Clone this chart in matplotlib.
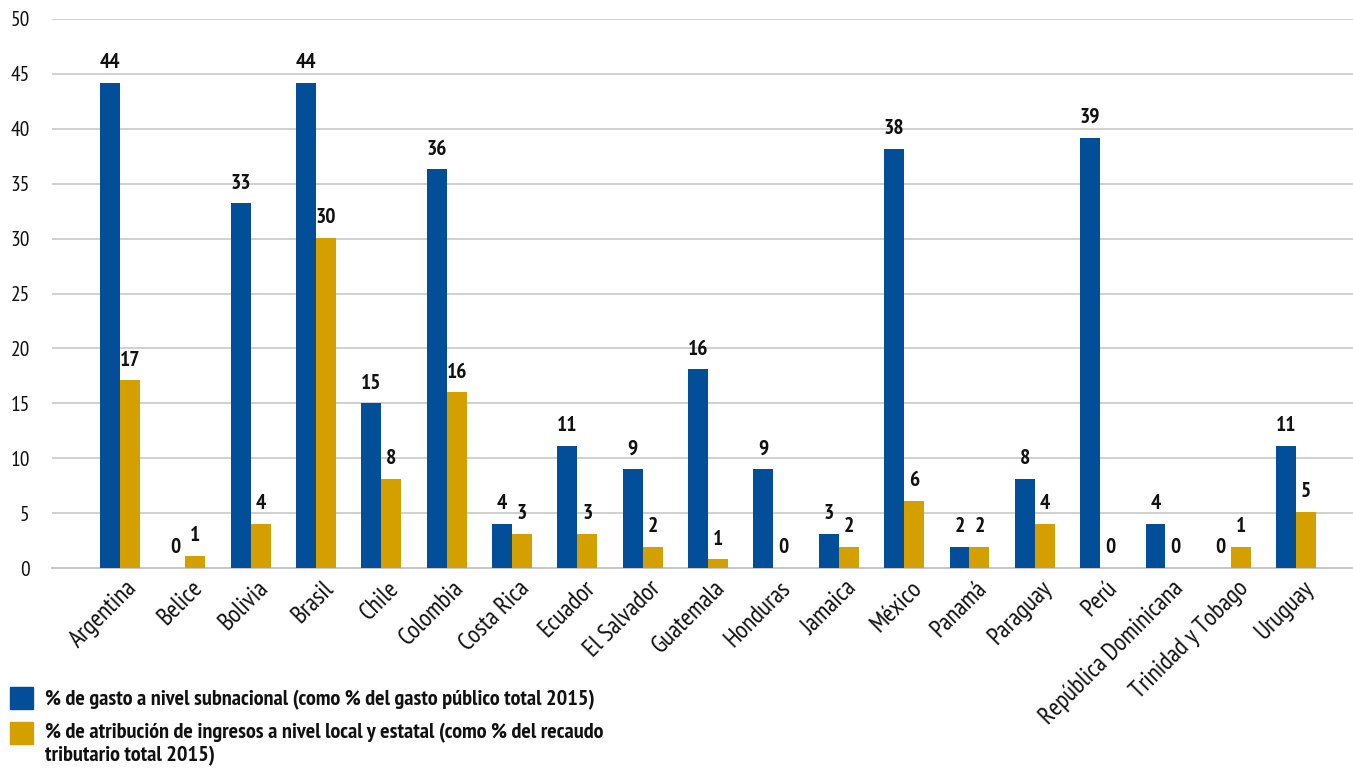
import numpy as np
import matplotlib
matplotlib.use("Agg")
import matplotlib.pyplot as plt
from matplotlib.patches import Rectangle
from matplotlib.transforms import ScaledTranslation

plt.rcParams['font.family'] = ['PT Sans Narrow', 'Asap Condensed', 'DejaVu Sans']

paises = ['Argentina', 'Belice', 'Bolivia', 'Brasil', 'Chile', 'Colombia', 'Costa Rica',
          'Ecuador', 'El Salvador', 'Guatemala', 'Honduras', 'Jamaica', 'México', 'Panamá',
          'Paraguay', 'Perú', 'República Dominicana', 'Trinidad y Tobago', 'Uruguay']

# bar heights
gasto = [44.2, 0, 33.2, 44.2, 15.0, 36.3, 4.0, 11.1, 9.0, 18.1, 9.0, 3.1, 38.2, 1.9,
         8.1, 39.2, 4.0, 0, 11.1]
ingresos = [17.1, 1.1, 4.0, 30.1, 8.1, 16.0, 3.1, 3.1, 1.9, 0.8, 0, 1.9, 6.1, 1.9,
            4.0, 0, 0, 1.9, 5.1]

# data labels as printed on the chart
gasto_lbl = ['44', '0', '33', '44', '15', '36', '4', '11', '9', '16', '9', '3', '38', '2',
             '8', '39', '4', '0', '11']
ingresos_lbl = ['17', '1', '4', '30', '8', '16', '3', '3', '2', '1', '0', '2', '6', '2',
                '4', '0', '0', '1', '5']

serie1 = '% de gasto a nivel subnacional (como % del gasto público total 2015)'
serie2 = ('% de atribución de ingresos a nivel local y estatal (como % del recaudo\n'
          'tributario total 2015)')

azul = '#034e98'
oro = '#d4a000'
W, H = 1353, 769

fig = plt.figure(figsize=(W / 100, H / 100), dpi=100)
ax = fig.add_axes([52 / W, 1 - 568 / H, 1 - 52 / W, (568 - 19) / H])

x = np.arange(len(paises))
w = 0.305
b1 = ax.bar(x - w / 2, gasto, w, color=azul, zorder=3)
b2 = ax.bar(x + w / 2, ingresos, w, color=oro, zorder=3)

for bars, lbls in ((b1, gasto_lbl), (b2, ingresos_lbl)):
    for rect, t in zip(bars, lbls):
        ax.annotate(t, (rect.get_x() + rect.get_width() / 2, rect.get_height()),
                    xytext=(0, 14.5), textcoords='offset points', ha='center', va='center',
                    fontsize=15.5, fontweight='bold', color='#111111', zorder=4)

ax.set_ylim(0, 50)
ax.set_xlim(-1.04, 18.87)
ax.set_yticks(range(0, 51, 5))
ax.yaxis.grid(True, color='#d0d0d0', linewidth=1.4, zorder=0)
ax.set_axisbelow(True)
for s in ('top', 'right', 'left'):
    ax.spines[s].set_visible(False)
ax.spines['bottom'].set_color('#c8c8c8')
ax.spines['bottom'].set_linewidth(1.4)
ax.tick_params(axis='both', length=0, labelsize=15.5, colors='#111111')
ax.tick_params(axis='y', pad=16)
ax.set_xticks(x)
ax.set_xticklabels(paises, rotation=45, ha='right', va='center', rotation_mode='anchor',
                   fontsize=18)
ax.tick_params(axis='x', pad=12)
off = ScaledTranslation(10 / 72, 0, fig.dpi_scale_trans)
for lab in ax.get_xticklabels():
    lab.set_transform(lab.get_transform() + off)

# legend below the plot, left side
for (y0, col) in ((687, azul), (722, oro)):
    fig.patches.append(Rectangle((10 / W, 1 - (y0 + 22) / H), 23 / W, 22 / H,
                                 transform=fig.transFigure, color=col))
fig.text(45 / W, 1 - 700 / H, serie1, ha='left', va='center', fontsize=16,
         fontweight='bold', color='#111111')
fig.text(45 / W, 1 - 723 / H, serie2, ha='left', va='top', fontsize=16,
         fontweight='bold', color='#111111', linespacing=1.2)

fig.savefig('out.png', dpi=100)
